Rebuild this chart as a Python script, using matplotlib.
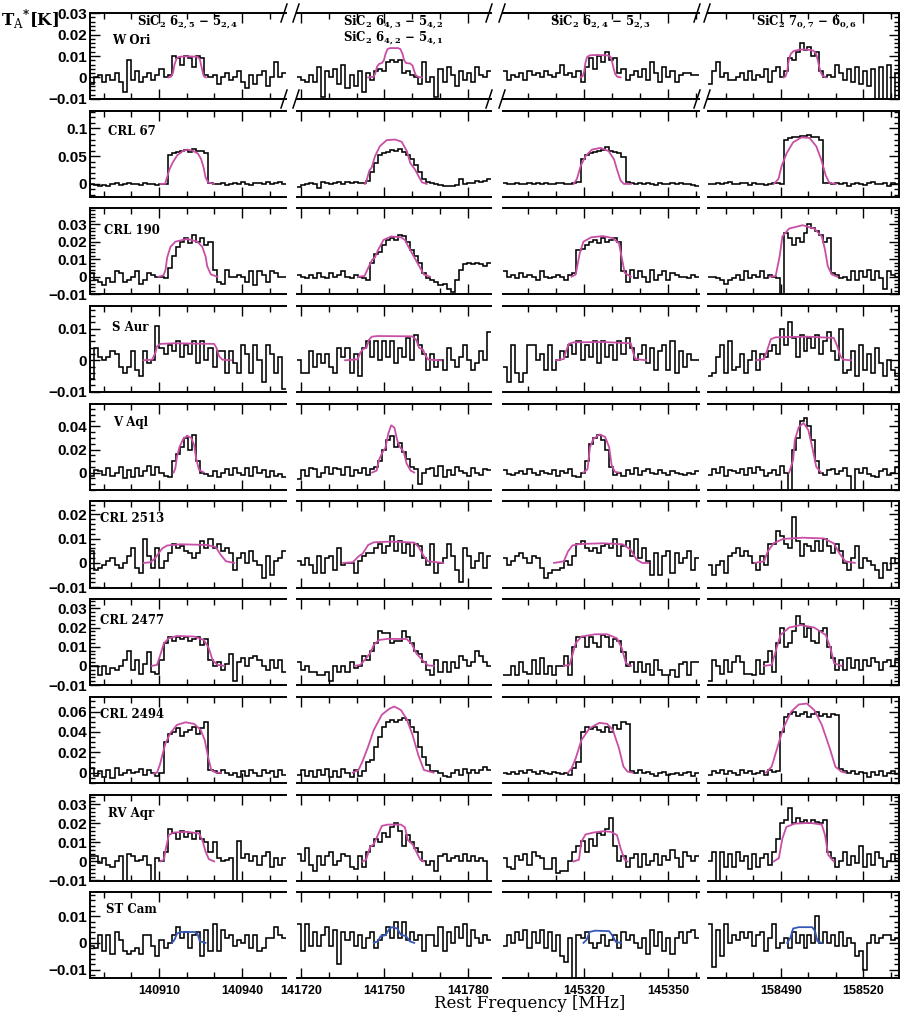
import matplotlib
matplotlib.use("Agg")
import matplotlib.pyplot as plt
import numpy as np
from matplotlib.lines import Line2D
from matplotlib.ticker import MultipleLocator, AutoMinorLocator, FuncFormatter

plt.rcParams["mathtext.fontset"] = "dejavuserif"
plt.rcParams["mathtext.default"] = "bf"

# ------------------------------------------------------------------------------
# Frequency windows (MHz) of the four SiC2 transitions, one per column

x_ranges = [(140885.1, 140955.9), (141718.6, 141788.3),
            (145291.1, 145361.0), (158463.6, 158532.9)]
x_major = [[140910, 140940], [141720, 141750, 141780],
           [145320, 145350], [158490, 158520]]

line_titles = [
    ["SiC$_2$ $6_{2,5}$ \u2212 $5_{2,4}$"],
    ["SiC$_2$ $6_{4,3}$ \u2212 $5_{4,2}$", "SiC$_2$ $6_{4,2}$ \u2212 $5_{4,1}$"],
    ["SiC$_2$ $6_{2,4}$ \u2212 $5_{2,3}$"],
    ["SiC$_2$ $7_{0,7}$ \u2212 $6_{0,6}$"],
]

sources = ["W Ori", "CRL 67", "CRL 190", "S Aur", "V Aql",
           "CRL 2513", "CRL 2477", "CRL 2494", "RV Aqr", "ST Cam"]

y_limits = [(-0.0101, 0.0301), (-0.023, 0.132), (-0.0101, 0.039), (-0.0101, 0.0172),
            (-0.015, 0.0597), (-0.0101, 0.0253), (-0.0101, 0.0348), (-0.0101, 0.0745),
            (-0.0101, 0.0352), (-0.0133, 0.019)]
y_major = [0.01, 0.05, 0.01, 0.01, 0.02, 0.01, 0.01, 0.02, 0.01, 0.01]

# ------------------------------------------------------------------------------
# Observed spectra, T_A* in mK, 48 channels per window

w_ori = [
    [-3, 0, 1, -2, 1, -1, 2, -2, -7, 8, -1, 3, -2, 0, 2, -1, 1, 4, 0, 1, 10, 9, 6, 10, 9, 5, 10, 9, 1, 0, 1, -3, 0, 2, -1, 0, 3, -2, -5, 1, -3, 1, 3, -4, 0, 7, 0, 2],
    [0, -1, -2, 1, -2, 5, -9, 3, 0, 4, -3, 6, -5, 1, -4, 3, -7, 2, -1, 3, 4, 3, 7, 8, 7, 8, 2, 3, 1, 0, -3, 7, -2, 0, -9, 4, -2, 5, 1, -4, 3, -1, 2, -2, 5, 1, 0, 3],
    [3, -1, 1, 0, 2, -1, 3, 1, 2, 0, 3, 1, 0, 2, 6, 1, 2, 0, 3, -2, 5, 9, 4, 10, 7, 12, 8, 9, 2, 4, -1, 1, 3, 0, 4, -1, 7, 2, -2, 5, 0, 3, -2, 1, 2, 2, 1, 1],
    [-3, 3, 7, 0, 2, -1, -1, 0, 2, -1, 3, -1, 1, 0, 4, -2, 3, 5, 0, 3, 9, 8, 12, 16, 13, 14, 10, 12, 3, 0, 1, 0, 6, 2, -1, 4, -2, 5, -3, 3, -4, 4, -12, 5, -12, 6, -12, 2],
]
crl_67 = [
    [-1, -2, -3, -2, -4, -1, 1, -2, 0, 2, -1, 0, -2, 1, -1, 0, -2, -1, 0, 52, 55, 58, 60, 62, 58, 63, 60, 60, 55, 2, 0, -1, 1, -2, 0, 2, -1, 3, 0, -2, 1, 2, -1, 3, 0, 2, 4, -1],
    [-5, -2, 0, 2, -1, -8, 3, 1, 0, 2, 3, 0, 4, 1, 3, 2, 1, 5, 22, 38, 52, 55, 58, 62, 60, 63, 58, 52, 45, 35, 22, 8, 3, 2, 0, -2, -3, -4, -3, -2, 8, 0, 1, 2, 5, 3, 6, 9],
    [1, 0, -1, 1, 0, -1, 2, 0, 1, -1, 2, 0, -1, 1, 2, -1, 0, 1, 3, 45, 52, 55, 58, 60, 62, 66, 60, 58, 55, 48, 3, 2, 0, 2, -1, 1, 0, -2, 1, 0, -1, 2, 0, 1, -1, 0, -2, -3],
    [-1, 0, 1, -1, 2, 3, 0, -1, 1, 2, -2, 1, 0, -1, -2, 0, 1, 2, 0, 80, 82, 84, 85, 87, 86, 88, 85, 84, 80, 2, 1, 0, 2, -1, 1, -4, 0, 2, 0, -2, 1, 3, -1, 0, 2, -3, 1, 0],
]
crl_190 = [
    [2, -2, -3, -5, -1, -3, 3, 2, -3, -2, 0, 3, -4, -2, 2, 1, 0, 0, -1, 5, 12, 17, 20, 22, 19, 24, 20, 22, 18, 20, 4, -3, -4, 4, 0, 0, 1, 0, -3, 3, -5, 3, 1, -3, 3, 2, 0, 0],
    [1, 0, -1, 1, -1, 2, 0, -1, 2, 0, 1, 3, 0, -1, 1, 0, -1, -2, 8, 13, 14, 18, 21, 22, 21, 24, 23, 20, 15, 12, 8, 2, -1, -2, -3, -5, -4, -7, -9, -2, 4, 7, 8, 7, 8, 7, 6, 8],
    [3, 0, 1, -1, 2, 0, 1, 0, -2, 3, 0, -1, 0, 1, 0, -2, 1, 2, 15, 16, 18, 20, 21, 19, 22, 20, 21, 22, 20, 3, -3, 4, -1, 3, 0, -3, 4, -2, 1, 3, -2, 2, 1, 0, 0, -1, 1, 0],
    [0, 0, -1, -2, -4, -2, -1, 1, -2, 3, -1, 1, 0, 3, -1, 1, 0, -1, -14, 25, 22, 18, 22, 20, 25, 30, 28, 26, 24, 20, 22, 2, 1, -1, 0, -2, 3, -2, 3, 0, 4, -2, 3, -1, -7, 3, 1, 0],
]
s_aur = [
    [-6, 4, 1, 0, 1, 3, 2, -2, -4, -2, 3, -3, -5, 3, -1, 0, 11, 4, 2, 5, 3, 6, 1, 5, 2, 6, -1, 6, 0, 4, -2, 3, 3, -4, 3, -1, -4, 5, 2, -4, 5, 0, -7, 5, 2, -4, 1, -9],
    [0, -4, -4, 3, -2, 2, -1, 2, -2, -4, 4, 1, 4, -4, 2, -5, 4, 6, 1, 6, 0, 6, 1, 6, -1, 4, 1, 7, 0, 8, 5, 2, -3, 2, -2, 0, -3, 4, 0, -2, 1, 5, 0, -3, -1, 3, 0, 9],
    [-2, -7, 5, -4, -7, -4, 5, 5, 0, 2, -3, 5, -3, 0, 3, 1, 5, 2, 6, 0, 5, 1, 6, -1, 6, 1, 5, 0, 6, 2, 7, 4, 0, 2, 5, -1, 4, -3, 3, 5, -3, 6, -4, 3, -2, 2, 0, 0],
    [-5, -4, 1, 5, -4, 6, -3, -2, 2, -4, 0, 3, -3, 2, 1, 3, 5, 2, 10, 5, 12, 7, 1, 8, 3, 7, 4, 8, 2, 6, 9, 3, 0, 10, -4, -3, 3, -5, 5, -3, 2, -4, 4, -1, -5, 0, -3, -5],
]
v_aql = [
    [-3, 2, 1, -2, 4, -3, 0, 5, -5, 2, -4, 4, -3, 1, 6, -2, 5, 0, -3, -4, 10, 16, 22, 30, 20, 33, 10, 0, -1, -3, 1, -4, 0, 3, -2, 4, 0, -2, 4, -3, 5, 0, 2, -4, 1, -3, -1, -4],
    [-6, 2, -3, 4, 3, -4, 0, 5, -1, 4, 3, -2, 5, -3, 2, 0, 4, -2, 3, 5, 10, 20, 28, 32, 22, 26, 18, 12, 5, 3, -10, 0, 3, 4, -3, 6, -4, 2, -2, 5, 1, 0, -3, 4, 0, -2, 3, 2],
    [2, -1, -2, 0, 1, -1, 3, 0, -2, 1, 0, -1, 2, -3, 1, 0, 3, -3, -4, 0, 10, 25, 30, 33, 28, 20, 5, -2, 0, -3, 2, -1, 4, -2, 1, 3, 0, -1, 2, 0, -2, 1, 0, -1, -2, 0, -1, 1],
    [-2, 3, 0, 5, -3, 2, 1, 0, 3, -2, 4, 0, 5, 2, -3, 0, 2, -2, 6, 0, -16, 20, 30, 45, 47, 40, 28, 10, 0, -2, 2, 3, -1, 1, 4, -3, -16, 3, 0, 4, -1, -3, -4, 1, 3, -2, 0, 5],
]
crl_2513 = [
    [5, -3, -2, -1, 1, 2, -1, -2, 0, 3, 6, -2, -4, 10, 3, -2, 6, -2, 1, 4, 8, 6, 7, 5, 4, 2, 4, 9, 6, 10, 6, 8, 5, 6, 4, -3, 2, 4, 0, 5, 1, -1, -6, 3, -5, 1, 2, 5],
    [1, -1, 2, -1, -4, 3, -4, 2, 3, -3, 6, -1, 0, 0, -4, 1, 3, 4, 4, 6, 8, 4, 7, 11, 5, 9, 4, 8, 3, 8, 7, 2, -1, 8, -4, 0, 2, 8, 3, -3, -8, 6, 3, -2, 1, 4, -2, 3],
    [2, -1, 1, 3, 4, 2, 0, 3, 2, -2, -6, -4, -3, -3, -2, 1, -1, 3, 8, 9, 6, 5, 6, 4, 7, 8, 6, 10, 3, 7, 9, 3, 10, 2, 6, 1, -5, 4, -5, 3, 5, -4, 4, 0, 2, 5, -3, 2],
    [-1, -5, -1, 1, -4, 3, 4, 6, 3, 5, 3, 0, -3, 3, -1, 8, 8, 13, 11, 8, 6, 19, 9, 3, 8, 7, 5, 9, 5, 10, 7, 4, 8, 5, 0, -3, 2, 7, -2, 2, 1, -1, -3, -6, 0, -3, 2, 0],
]
crl_2477 = [
    [0, 0, -5, 0, -4, -1, -2, 0, 3, 8, -2, 3, -4, 1, 7, -3, -4, 3, 12, 15, 13, 15, 14, 15, 13, 14, 15, 11, 14, 3, 0, 2, -2, 1, 6, -8, 2, 4, 0, 4, 5, 3, 0, -2, 3, -1, 3, -3],
    [2, -2, 0, -3, -3, -5, -5, -3, -8, 0, -3, 0, -3, 2, -1, 0, 5, 3, 8, 12, 18, 17, 17, 12, 13, 13, 18, 15, 12, 8, 6, 2, -2, -5, 3, -3, 2, -3, 2, -1, 5, 3, 0, 2, 8, 5, 2, 0],
    [-5, -5, 0, -5, 2, -3, -4, 3, -4, 4, -4, 0, -5, 0, 0, 5, -5, 10, 15, 15, 10, 15, 12, 10, 16, 15, 10, 14, 13, 7, 0, 2, -3, 2, -3, 1, -5, 3, -2, -5, -5, -2, -6, 1, 2, -5, 2, 2],
    [-8, 3, 0, -4, 3, -3, 2, 5, 2, -4, -4, -5, 3, -4, 2, 8, -3, 12, 20, 10, 12, 18, 26, 22, 15, 20, 13, 12, 18, 20, 10, 4, -2, 3, -2, 4, -1, 3, -2, 3, 0, 4, 2, -2, 2, 3, 0, 3],
]
crl_2494 = [
    [5, -3, 2, -4, 3, -5, 5, -2, 0, 3, 0, 1, 4, -2, 3, 0, -3, 0, 30, 38, 40, 44, 36, 40, 42, 45, 38, 44, 50, 3, 2, 0, 3, 0, -2, 0, -4, 2, -3, 3, 0, -3, 3, 0, 2, -4, 3, -2],
    [-2, 3, -3, 2, -4, 3, -2, 4, -4, 2, -4, 4, 0, -4, 3, -3, 2, 10, 12, 25, 35, 45, 50, 52, 50, 52, 54, 52, 45, 40, 25, 15, 8, 2, 2, 0, -3, -4, 0, 3, -2, 4, 0, 3, 0, 3, 6, 3],
    [0, -1, 1, -1, 2, 0, 3, 1, -1, 2, 0, -1, 1, 0, -1, 0, -2, 5, 10, 40, 45, 43, 45, 42, 40, 45, 40, 47, 43, 50, 48, 2, 0, 3, 0, 1, -1, -3, 0, 1, -2, -1, 0, -2, 0, 1, -3, 0],
    [-2, 2, 0, 3, -1, 2, 0, -2, 3, 0, 2, -1, 0, 2, -2, 3, 1, 2, 40, 55, 58, 60, 56, 58, 60, 55, 58, 60, 56, 58, 55, 58, 57, 4, 2, 0, 2, -1, 1, 0, -4, 1, -2, 2, -3, 0, 2, -1],
]
rv_aqr = [
    [3, 3, -1, 2, -2, -3, 0, 3, -12, 4, 3, 0, 1, 3, -2, -12, 2, 0, 5, 17, 15, 12, 16, 13, 15, 12, 16, 12, 10, 5, 10, 2, 0, 1, 2, -12, 11, 2, 4, 0, 3, -2, 3, 5, -3, 2, -2, 2],
    [4, 0, 7, -2, -5, 3, -2, 3, 5, -2, 0, 4, 3, -3, -4, 3, -3, 5, 8, 12, 10, 15, 13, 18, 20, 16, 8, 14, 10, 7, 5, 0, -2, 0, -5, 3, 4, 0, 2, 3, 0, 4, 0, 3, 0, 2, 0, -12],
    [2, -3, -4, 3, 1, 4, -2, 5, 3, 2, -4, -4, 2, -6, -5, -5, 0, 5, 8, 11, 5, 12, 8, 15, 14, 17, 23, 8, 0, 3, -3, 2, 4, -3, 4, -2, 0, 4, -2, 3, 1, 6, 2, -3, 5, 3, 0, 3],
    [0, 5, -12, 5, -3, 4, -3, 5, 0, 3, -4, 4, -3, 2, 4, -2, 5, 12, 20, 22, 28, 20, 23, 21, 22, 20, 22, 21, 20, 22, 5, 2, -3, 0, 5, -2, 3, -1, 8, -3, 4, -2, 5, 2, -3, 0, 4, 0],
]
st_cam = [
    [-1, -2, 3, -3, 3, -4, 4, 1, -3, -4, -3, -2, -4, 3, 3, -1, -5, 1, -2, 0, 3, 6, 2, 4, -2, 3, 4, -5, 5, -3, 7, -3, 5, 2, 3, -1, 1, 0, 3, -2, 3, -3, -2, 2, 2, 6, 3, 2],
    [7, -3, 7, -1, 4, -1, 3, 6, -1, 5, -8, 4, 1, 4, -1, 3, -2, 2, 4, -2, 1, 3, 6, 2, 8, 2, 8, 1, 4, 1, 3, -3, 3, 3, -1, 6, -3, 4, 0, 6, 2, 7, -1, 5, 2, 0, 3, 1],
    [-1, 3, 0, 4, 1, 5, -2, 4, 0, 5, -2, 4, -3, 3, -5, -7, 2, -14, 3, 2, 4, 0, -2, 0, 3, -1, 1, 3, -2, 4, 1, 3, 0, -2, 2, -4, 5, -1, 4, -3, 2, -4, 2, 4, 0, 4, 5, 2],
    [7, -9, 5, -5, 7, 0, 3, 1, 4, 2, 4, -1, 3, 4, -3, 2, 7, -2, 0, 2, -2, 4, 0, 3, -2, 3, 0, 10, 0, 4, 0, 3, -1, 4, -1, 2, 0, -5, -3, -10, 0, 3, 0, 2, 3, 3, 1, 2],
]

# ------------------------------------------------------------------------------
# Model line profiles: (channel position, mK)

w_ori_model = [
    [(19.2, 0), (19.8, 0.3), (20.3, 2), (20.7, 6), (21.2, 8.8), (21.8, 9.6), (23, 9.8), (25, 9.8), (26.3, 9.6), (26.9, 8.5), (27.3, 5), (27.7, 1.5), (28, 0.3), (28.4, 0)],
    [(17.6, 0), (19, 0.3), (19.4, 2), (19.8, 5), (20.3, 6.3), (21, 6.7), (21.5, 8), (21.9, 11), (22.4, 13.2), (23, 13.7), (25, 13.7), (25.6, 13.2), (26.1, 11), (26.5, 8), (27, 6.7), (28, 6.5), (28.6, 5.5), (29, 3), (29.4, 1), (30, 0.2), (30.9, 0)],
    [(19, 0), (19.5, 0.5), (19.9, 3), (20.2, 7), (20.6, 9.5), (21.2, 10.3), (23, 10.5), (25.5, 10.3), (26.3, 9.8), (26.7, 7.5), (27.1, 4), (27.5, 1.5), (28, 0.3), (28.8, 0)],
    [(19, 0), (19.5, 0.5), (19.9, 3), (20.3, 8), (20.8, 11), (21.5, 12.3), (23, 13), (25, 13), (26.5, 12.5), (27.2, 11), (27.7, 7), (28.2, 3), (28.7, 1), (29.6, 0)],
]
crl_67_model = [
    [(17.2, 0), (18.4, 0.3), (18.8, 10), (19.4, 25), (20.2, 38), (21.4, 52), (22.7, 59), (23.9, 62), (25.1, 60), (26.4, 55), (27.2, 45), (27.8, 30), (28.3, 12), (28.9, 3), (30.3, 0)],
    [(16.8, 0), (17.2, 6), (17.9, 24), (18.5, 30), (19.3, 50), (20.5, 68), (22.2, 79), (24.3, 80), (25.9, 76), (27.2, 59), (28, 38), (29.2, 26), (30, 15), (30.9, 3), (32.1, 0)],
    [(17.3, 0), (18.1, 9), (19, 32), (20.2, 50), (21.8, 62), (23.9, 65), (25.9, 59), (27.2, 44), (28, 24), (28.8, 6), (29.6, 0), (31.3, 0)],
    [(16.5, 0), (17.7, 9), (18.5, 32), (19.8, 56), (21.4, 75), (23.5, 84), (25.5, 83), (27.2, 68), (28.4, 45), (29.6, 15), (30.5, 2), (32.1, 0)],
]
crl_190_model = [
    [(16.8, 0), (18, 0.8), (18.5, 4), (18.9, 11), (19.7, 17), (20.9, 20), (23.8, 21.6), (26.3, 20), (27.5, 17), (28.3, 11.6), (28.7, 6), (29.6, 1.3), (31.2, 0)],
    [(15.2, 0), (16.7, 0.4), (17.6, 5), (18.6, 9.7), (19.3, 11), (20, 15), (21.4, 21), (23.3, 23), (25.7, 22.5), (26.7, 21), (27.6, 17), (28.9, 11.6), (30, 7), (31.4, 1.3), (32.9, 0)],
    [(16.8, 0), (17.8, 1.3), (18.8, 13.5), (19.7, 20), (21.6, 22.5), (24.5, 23.2), (26.9, 22), (28.4, 19), (29.1, 10.7), (29.8, 2.2), (31.3, 0)],
    [(15.5, 0), (17, 0.4), (18, 11.6), (18.7, 23), (20.4, 27.5), (23.8, 29.4), (26.7, 27.5), (28.6, 23), (29.4, 15.4), (30.1, 6), (31.1, 1.3), (32.5, 0)],
]
s_aur_model = [
    [(13.1, 0), (15.2, 0.2), (16, 2.3), (16.4, 4.4), (17.2, 5.2), (20.5, 5.4), (30.4, 5.2), (31, 3.9), (31.6, 1.3), (32.4, 0.2), (34.5, 0)],
    [(11.9, 0), (15, 0.3), (15.7, 2.5), (16.3, 3.5), (17.2, 4), (17.8, 6.5), (18.5, 7.5), (20, 7.7), (28.5, 7.6), (29.5, 6.5), (30.2, 4), (31.2, 3.3), (31.8, 1.5), (32.5, 0.2), (35.7, 0)],
    [(13, 0), (14.9, 0.4), (15.4, 2.8), (16.1, 5.2), (17.3, 5.7), (24.5, 5.8), (31.3, 5.4), (31.8, 2.8), (32.4, 0.4), (35.1, 0)],
    [(12.1, 0), (14.1, 0.4), (14.9, 3.3), (15.8, 6.7), (17, 7.3), (24.8, 7.5), (31.6, 7.1), (32.5, 4.4), (33.3, 1.2), (34, 0.2), (35.9, 0)],
]
v_aql_model = [
    [(20.5, 0), (20.9, 3.7), (21.3, 13.7), (21.9, 22), (22.8, 29), (23.8, 32), (24.8, 30), (25.5, 24), (26, 12), (26.7, 2.3), (27.9, 0)],
    [(18.6, 0), (19.7, 1.7), (20.3, 11), (21, 16.6), (21.9, 21.7), (22.6, 34), (23.3, 41), (24.1, 39), (24.8, 28), (25.5, 22), (26.4, 18), (27.1, 8), (28.1, 1.7), (29, 0)],
    [(19.7, 0), (20.7, 2.9), (21.3, 22), (22.1, 29), (23.6, 33), (25, 31), (26, 22), (26.6, 6.6), (27.4, 0.6), (28.4, 0)],
    [(20.4, 0), (21.4, 11), (21.8, 28), (22.8, 39.4), (24, 43), (25.2, 37), (26.2, 22), (27.2, 5), (28.4, 0)],
]
crl_2513_model = [
    [(13.1, 0), (14.8, 0.3), (16, 2), (16.8, 4), (17.7, 6), (18.9, 7.2), (22.2, 7.7), (28.7, 7.4), (30.8, 6.5), (32, 3.4), (33.3, 0.7), (35.3, 0)],
    [(11.4, 0), (13.8, 0.3), (15.2, 2.7), (16.2, 3.8), (16.9, 5.5), (17.6, 7.4), (19, 8.5), (23.3, 8.8), (29, 8.4), (30, 6.8), (30.8, 4.5), (31.4, 2.7), (32.4, 0.7), (36.2, 0)],
    [(12.5, 0), (14.9, 0.7), (15.9, 4.7), (17, 7.2), (18.8, 7.8), (24.5, 8.1), (29.3, 7.7), (31.3, 5.4), (32.7, 1.4), (34.1, 0), (35.6, 0)],
    [(11.7, 0), (14.1, 0.7), (15, 4.7), (16.5, 8.1), (18.9, 9.9), (23.8, 10.4), (29.1, 10.1), (31.6, 8.1), (33, 4), (34.5, 0.7), (36.9, 0)],
]
crl_2477_model = [
    [(15.2, 0), (16.4, 0.5), (17.1, 4.9), (18.1, 11.8), (19.3, 14.4), (21.3, 15.6), (25.5, 15.3), (27.9, 13.5), (29.1, 9.2), (30, 3.1), (31.2, 0.5), (32.8, 0)],
    [(14.3, 0), (15.7, 0.5), (17.1, 4), (18.1, 6.6), (19, 11), (20.3, 13.5), (22.4, 14.1), (27.1, 14), (28.3, 11.8), (29.5, 6.6), (31, 3.1), (32.4, 0.2), (33.8, 0)],
    [(14.9, 0), (16.3, 0.5), (17, 5.7), (17.8, 11.8), (19.2, 15.3), (22.6, 16.5), (25.5, 16.5), (27.9, 14.4), (29.1, 9.2), (30.1, 1.4), (31.3, 0)],
    [(14.1, 0), (16, 0.5), (17, 7.5), (18.2, 16.1), (20.4, 20), (23.3, 21.3), (26.7, 20), (29.6, 16.1), (30.8, 9.2), (31.7, 1.4), (33.5, 0)],
]
crl_2494_model = [
    [(15.6, -1), (16.4, 0), (17.1, 7.5), (17.7, 17), (18.5, 29), (19.7, 39), (21.3, 47), (23.4, 49.5), (25.5, 48), (27.1, 42), (28.1, 32), (28.9, 15.7), (29.7, 2.6), (30.8, 0), (32, 0)],
    [(13.8, 0), (15.2, 2.6), (16.2, 11), (17.6, 25.6), (19, 42), (21, 57), (22.9, 63), (24.1, 65), (25.7, 61.6), (27.1, 53), (28.6, 37), (30, 17.4), (31.4, 2.6), (33.8, 0)],
    [(15.9, 0), (16.8, 4.3), (17.8, 14), (19.2, 32), (21.2, 43.6), (23.6, 49), (25.5, 48), (26.9, 42), (28.4, 24), (29.5, 5.9), (30.5, 1), (31.7, 0)],
    [(14.6, 0), (16, 5.9), (17.5, 25.6), (18.9, 43.6), (20.9, 60), (22.8, 67), (24.8, 68), (26.7, 61.6), (28.6, 47), (30.6, 24), (32, 5.9), (33.5, 1), (34.5, 0)],
]
rv_aqr_model = [
    [(17.2, 0), (18.1, 0.9), (18.6, 7), (19.3, 13.9), (20.5, 15.2), (23.8, 15.6), (26.7, 14.7), (27.5, 11.3), (28.3, 5.2), (29.1, 1.2), (30.4, 0)],
    [(16.2, 0), (17.1, 0.9), (18.1, 7.8), (19, 9), (20, 13.9), (21, 18.7), (22.4, 19.4), (25.7, 19.4), (26.7, 18), (27.4, 11.3), (28.6, 9), (29.5, 5.2), (30.5, 0.9), (31.4, 0)],
    [(17.3, 0), (18.6, 0.9), (19.2, 10.4), (20.2, 14.2), (22.1, 15.2), (24.5, 15.9), (26.4, 15.6), (27.9, 13.9), (28.8, 6.9), (29.8, 0.9), (30.5, 0)],
    [(16.5, 0), (17.8, 1.7), (18.7, 12.1), (19.7, 18.2), (21.8, 19.9), (25.7, 20.3), (28.6, 19.4), (29.4, 13.9), (30.2, 3.5), (31.6, 0)],
]
st_cam_model = [
    [(20.1, 0), (20.7, 1.2), (21.3, 3.5), (22.2, 4.1), (25.5, 4.1), (26.3, 3.5), (26.9, 0.6), (28.3, 0)],
    [(19, 0), (20, 0.6), (20.7, 2.5), (21.9, 2.9), (22.9, 5.4), (23.5, 5.9), (24.8, 5.4), (25.7, 3.1), (27, 2.5), (27.9, 0.6), (29, 0)],
    [(19.7, 0), (20.5, 1.2), (21.2, 4.1), (22.6, 4.6), (26, 4.4), (26.9, 2.5), (27.6, 0.4), (28.8, 0)],
    [(19.9, 0), (20.7, 1.9), (21.4, 5.4), (22.8, 5.9), (26.2, 5.9), (26.9, 4.4), (27.5, 0.6), (28.6, 0)],
]

spectra = [w_ori, crl_67, crl_190, s_aur, v_aql, crl_2513, crl_2477, crl_2494, rv_aqr, st_cam]
models = [w_ori_model, crl_67_model, crl_190_model, s_aur_model, v_aql_model,
          crl_2513_model, crl_2477_model, crl_2494_model, rv_aqr_model, st_cam_model]

# ------------------------------------------------------------------------------
# Layout (pixels of a 902 x 1019 canvas)

W, H = 902, 1019
col_left = [90, 297, 503, 708]
col_right = [286, 491, 699, 899]
row_h = 86
row_step = 97.7
label_pos = [(22, 27), (18, 21), (14, 22), (22, 21), (23, 19),
             (10, 17), (10, 21), (10, 18), (18, 19), (16, 17)]

PINK = "#c94fa6"
BLUE = "#3358b8"


def y_fmt(v, pos):
    if abs(v) < 1e-9:
        return "0"
    return f"{v:g}".replace("-", "\u2212")


fig = plt.figure(figsize=(W / 100, H / 100), dpi=100)

for r in range(len(sources)):
    top = 13 + row_step * r
    for c in range(4):
        ax = fig.add_axes([col_left[c] / W, 1 - (top + row_h) / H,
                           (col_right[c] - col_left[c]) / W, row_h / H])
        lo, hi = x_ranges[c]
        vals = np.array(spectra[r][c]) / 1000.0
        edges = np.linspace(lo, hi, len(vals) + 1)
        ax.stairs(vals, edges, baseline=None, color="black", lw=1.15, zorder=2)

        pts = np.array(models[r][c])
        chw = (hi - lo) / 48
        ax.plot(lo + pts[:, 0] * chw, pts[:, 1] / 1000.0,
                color=BLUE if r == len(sources) - 1 else PINK, lw=1.3, zorder=3)

        ax.set_xlim(lo, hi)
        ax.set_ylim(*y_limits[r])

        for side in ["top", "bottom", "left", "right"]:
            ax.spines[side].set_linewidth(1.4)
        ax.spines["left"].set_visible(c == 0)
        ax.spines["right"].set_visible(c == 3)

        ax.xaxis.set_major_locator(plt.FixedLocator(x_major[c]))
        ax.xaxis.set_minor_locator(MultipleLocator(10))
        ax.xaxis.set_major_formatter(FuncFormatter(lambda v, p: f"{v:.0f}"))
        ax.tick_params(axis="x", which="both", direction="in", top=True, bottom=True,
                       labelbottom=(r == len(sources) - 1), width=1.0, pad=5)
        ax.tick_params(axis="x", which="major", length=7)
        ax.tick_params(axis="x", which="minor", length=4)

        ax.yaxis.set_major_locator(MultipleLocator(y_major[r]))
        ax.yaxis.set_minor_locator(AutoMinorLocator(4 if y_major[r] == 0.02 else 5))
        ax.yaxis.set_major_formatter(FuncFormatter(y_fmt))
        ax.tick_params(axis="y", which="both", direction="in", width=1.0,
                       left=(c == 0), right=(c == 3), labelleft=(c == 0), pad=2)
        ax.tick_params(axis="y", which="major", length=7)
        ax.tick_params(axis="y", which="minor", length=3.5)

        for lab in ax.get_yticklabels():
            lab.set_fontfamily("Liberation Sans")
            lab.set_fontweight("bold")
            lab.set_fontsize(11)
        for lab in ax.get_xticklabels():
            lab.set_fontfamily("Liberation Sans")
            lab.set_fontweight("bold")
            lab.set_fontsize(9)

        if c == 0:
            lx, ly = label_pos[r]
            ax.text(lx / (col_right[0] - col_left[0]), 1 - ly / row_h, sources[r],
                    transform=ax.transAxes, ha="left", va="center",
                    family="DejaVu Serif", fontweight="bold", fontsize=8.5)

# line names above the first row
title_x = [188, 393, 600, 806]
for c, lines in enumerate(line_titles):
    ys = [22] if len(lines) == 1 else [22, 38]
    for txt, yy in zip(lines, ys):
        fig.text(title_x[c] / W, 1 - yy / H, txt, ha="center", va="center",
                 family="DejaVu Serif", fontweight="bold", fontsize=8.5)

# broken-axis marks in the first row
for yy in [13, 13 + row_h]:
    for c in range(3):
        for xc in [col_right[c] - 2, col_left[c + 1] - 1]:
            fig.add_artist(Line2D([(xc - 3) / W, (xc + 3) / W],
                                  [1 - (yy + 9) / H, 1 - (yy - 9) / H],
                                  transform=fig.transFigure, color="black", lw=1.1))

fig.text(30 / W, 1 - 20 / H, r"T$_{\rm A}$$^{*}$[K]", ha="center", va="center",
         family="DejaVu Serif", fontweight="bold", fontsize=12)
fig.text(530 / W, 1 - 1004 / H, "Rest Frequency [MHz]", ha="center", va="center",
         family="DejaVu Serif", fontsize=12)

fig.savefig("out.png", dpi=100, facecolor="white")
